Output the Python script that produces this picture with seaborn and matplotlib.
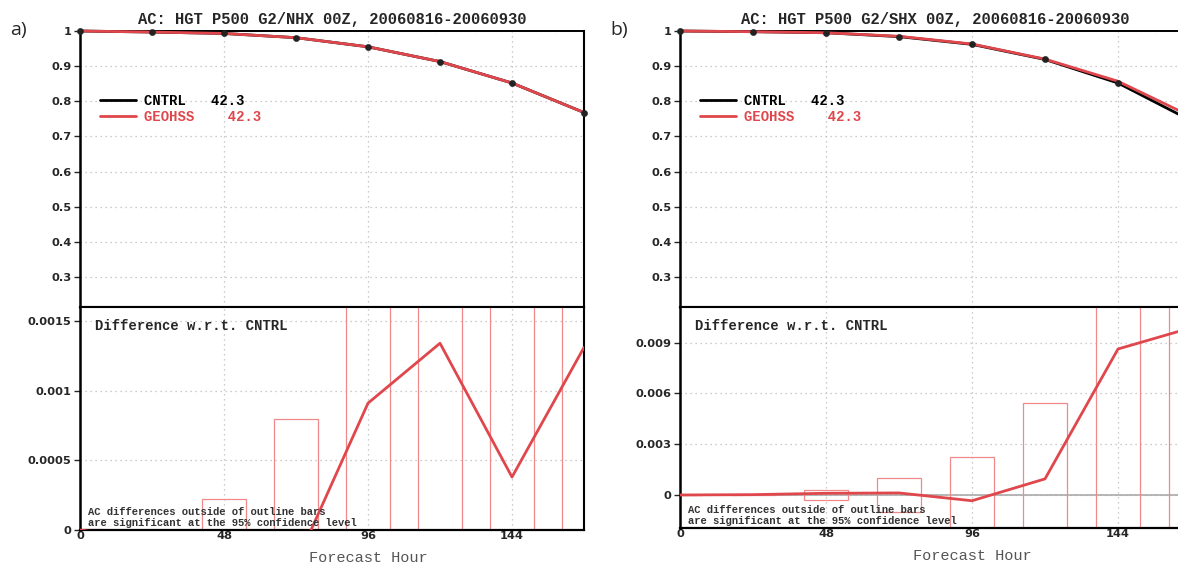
import numpy as np
import pandas as pd
import seaborn as sns
import matplotlib.pyplot as plt

sns.set_style("white")
plt.rcParams['font.family'] = ['DejaVu Sans']

#%% data
hours = [0, 24, 48, 72, 96, 120, 144, 168]

# anomaly correlation, NHX (a) and SHX (b)
ac_cntrl_a = [1.0, 0.997, 0.993, 0.981, 0.955, 0.913, 0.852, 0.768]
ac_geohss_a = [1.0, 0.997, 0.993, 0.981, 0.955, 0.913, 0.852, 0.768]
ac_cntrl_b = [1.0, 0.998, 0.995, 0.984, 0.962, 0.919, 0.852, 0.745]
ac_geohss_b = [1.0, 0.998, 0.995, 0.985, 0.963, 0.920, 0.857, 0.757]

# GEOHSS - CNTRL
diff_a = [0.0, -0.00008, -0.00015, -0.00024, 0.00091, 0.00134, 0.00038, 0.00131]
diff_b = [0.0, 0.00002, 0.0001, 0.00012, -0.00034, 0.00095, 0.00862, 0.00987]

# 95% confidence half-widths (outline bars)
ci_a = [0.00001, 0.0, 0.00022, 0.0008, 0.005, 0.005, 0.005, 0.005]
ci_b = [0.0, 0.0, 0.0003, 0.00102, 0.00225, 0.00543, 0.03, 0.03]

titles = ["AC: HGT P500 G2/NHX 00Z, 20060816-20060930",
          "AC: HGT P500 G2/SHX 00Z, 20060816-20060930"]
panel_tags = ["a)", "b)"]
legend_labels = ["CNTRL   42.3", "GEOHSS    42.3"]

RED = "#e0474c"
BAR_RED = "#f08a8a"
MONO = "Liberation Mono"

fig = plt.figure(figsize=(11.78, 5.67), dpi=100)

panels = [
    dict(ac=(ac_cntrl_a, ac_geohss_a), diff=diff_a, ci=ci_a,
         left=80, width=504, bot_bottom=530, dylim=(0, 0.0016),
         dticks=[0, 0.0005, 0.001, 0.0015], dlabels=["0", "0.0005", "0.001", "0.0015"],
         zero_line=False),
    dict(ac=(ac_cntrl_b, ac_geohss_b), diff=diff_b, ci=ci_b,
         left=680, width=511, bot_bottom=528, dylim=(-0.00195, 0.0111),
         dticks=[0, 0.003, 0.006, 0.009], dlabels=["0", "0.003", "0.006", "0.009"],
         zero_line=True),
]

W, H = 1178, 567
top_px, mid_px = 31, 307

for i, p in enumerate(panels):
    l = p['left'] / W
    w = p['width'] / W
    ax_top = fig.add_axes([l, 1 - mid_px / H, w, (mid_px - top_px) / H])
    ax_bot = fig.add_axes([l, 1 - p['bot_bottom'] / H, w, (p['bot_bottom'] - mid_px) / H])

    df = pd.DataFrame({'hour': hours, 'CNTRL': p['ac'][0], 'GEOHSS': p['ac'][1]})

    # --- AC panel
    sns.lineplot(data=df, x='hour', y='CNTRL', ax=ax_top, color='black', lw=2.0,
                 label=legend_labels[0], clip_on=False, zorder=3)
    sns.lineplot(data=df, x='hour', y='GEOHSS', ax=ax_top, color=RED, lw=2.0,
                 label=legend_labels[1], clip_on=False, zorder=4)
    sns.scatterplot(data=df, x='hour', y='CNTRL', ax=ax_top, color='#222222', s=20,
                    edgecolor='#222222', clip_on=False, zorder=5, legend=False)
    ax_top.set_xlim(0, 168)
    ax_top.set_ylim(0.2146, 1.0)
    ax_top.set_yticks([0.3, 0.4, 0.5, 0.6, 0.7, 0.8, 0.9, 1.0])
    ax_top.set_yticklabels(["0.3", "0.4", "0.5", "0.6", "0.7", "0.8", "0.9", "1"])
    ax_top.set_xticks([48, 96, 144])
    ax_top.tick_params(axis='x', length=0, labelbottom=False)
    ax_top.set_xlabel("")
    ax_top.set_ylabel("")
    ax_top.set_title(titles[i], fontsize=11.2, fontweight='bold', family=MONO, pad=5)
    ax_top.legend(loc='upper left', bbox_to_anchor=(20 / p['width'], 0.772), frameon=False,
                  borderaxespad=0, borderpad=0,
                  handlelength=2.6, handletextpad=0.55, labelspacing=0.15,
                  prop=dict(family=MONO, weight='bold', size=10),
                  labelcolor=['black', RED])

    # --- difference panel
    ax_bot.bar(hours, [2 * c for c in p['ci']], bottom=[-c for c in p['ci']],
               width=14.4, fill=False, edgecolor=BAR_RED, linewidth=0.9, zorder=2)
    if p['zero_line']:
        ax_bot.axhline(0, color='#aaaaaa', lw=1.2, zorder=1)
    ddf = pd.DataFrame({'hour': hours, 'diff': p['diff']})
    sns.lineplot(data=ddf, x='hour', y='diff', ax=ax_bot, color=RED, lw=2.0, zorder=4)
    ax_bot.set_xlim(0, 168)
    ax_bot.set_ylim(*p['dylim'])
    ax_bot.set_yticks(p['dticks'])
    ax_bot.set_yticklabels(p['dlabels'])
    ax_bot.set_xticks([0, 48, 96, 144])
    ax_bot.set_xticklabels(["0", "48", "96", "144"])
    ax_bot.set_ylabel("")
    ax_bot.set_xlabel("Forecast Hour", family=MONO, fontsize=11, color='#555555')
    ax_bot.xaxis.set_label_coords(96 / 168, -0.095)
    ax_bot.text(0.03, 0.915, "Difference w.r.t. CNTRL", transform=ax_bot.transAxes,
                family=MONO, fontweight='bold', fontsize=10, va='center', ha='left', zorder=6)
    ax_bot.text(0.016, 0.01, "AC differences outside of outline bars\n"
                "are significant at the 95% confidence level",
                transform=ax_bot.transAxes, family=MONO, fontweight='bold', fontsize=7.6,
                va='bottom', ha='left', linespacing=1.15, color='#333333', zorder=6)

    for ax in (ax_top, ax_bot):
        ax.grid(True, color='#bbbbbb', linestyle=(0, (1, 3)), linewidth=0.9)
        ax.tick_params(axis='y', direction='out', length=4, width=1, left=True,
                       labelsize=8.2, pad=2)
        ax.tick_params(axis='x', labelsize=8.2, pad=1)
        for lab in ax.get_yticklabels() + ax.get_xticklabels():
            lab.set_fontweight('bold')
        ax.spines['left'].set_linestyle((0, (1, 1)))
        ax.spines['left'].set_linewidth(1.8)
        ax.spines['right'].set_linewidth(1.5)
        for s in ax.spines.values():
            s.set_color('black')
    ax_top.spines['top'].set_linestyle((0, (2, 1)))
    ax_top.spines['top'].set_linewidth(1.4)
    ax_top.spines['bottom'].set_linewidth(1.5)
    ax_bot.spines['top'].set_linewidth(1.5)
    ax_bot.spines['bottom'].set_linestyle((0, (2, 1)))
    ax_bot.spines['bottom'].set_linewidth(1.6)
    ax_bot.tick_params(axis='x', length=0)

    fig.text((p['left'] - 70) / W, 1 - 30 / H, panel_tags[i], fontsize=14,
             family='Open Sans', va='center', ha='left')

fig.savefig("out.png", dpi=100)
